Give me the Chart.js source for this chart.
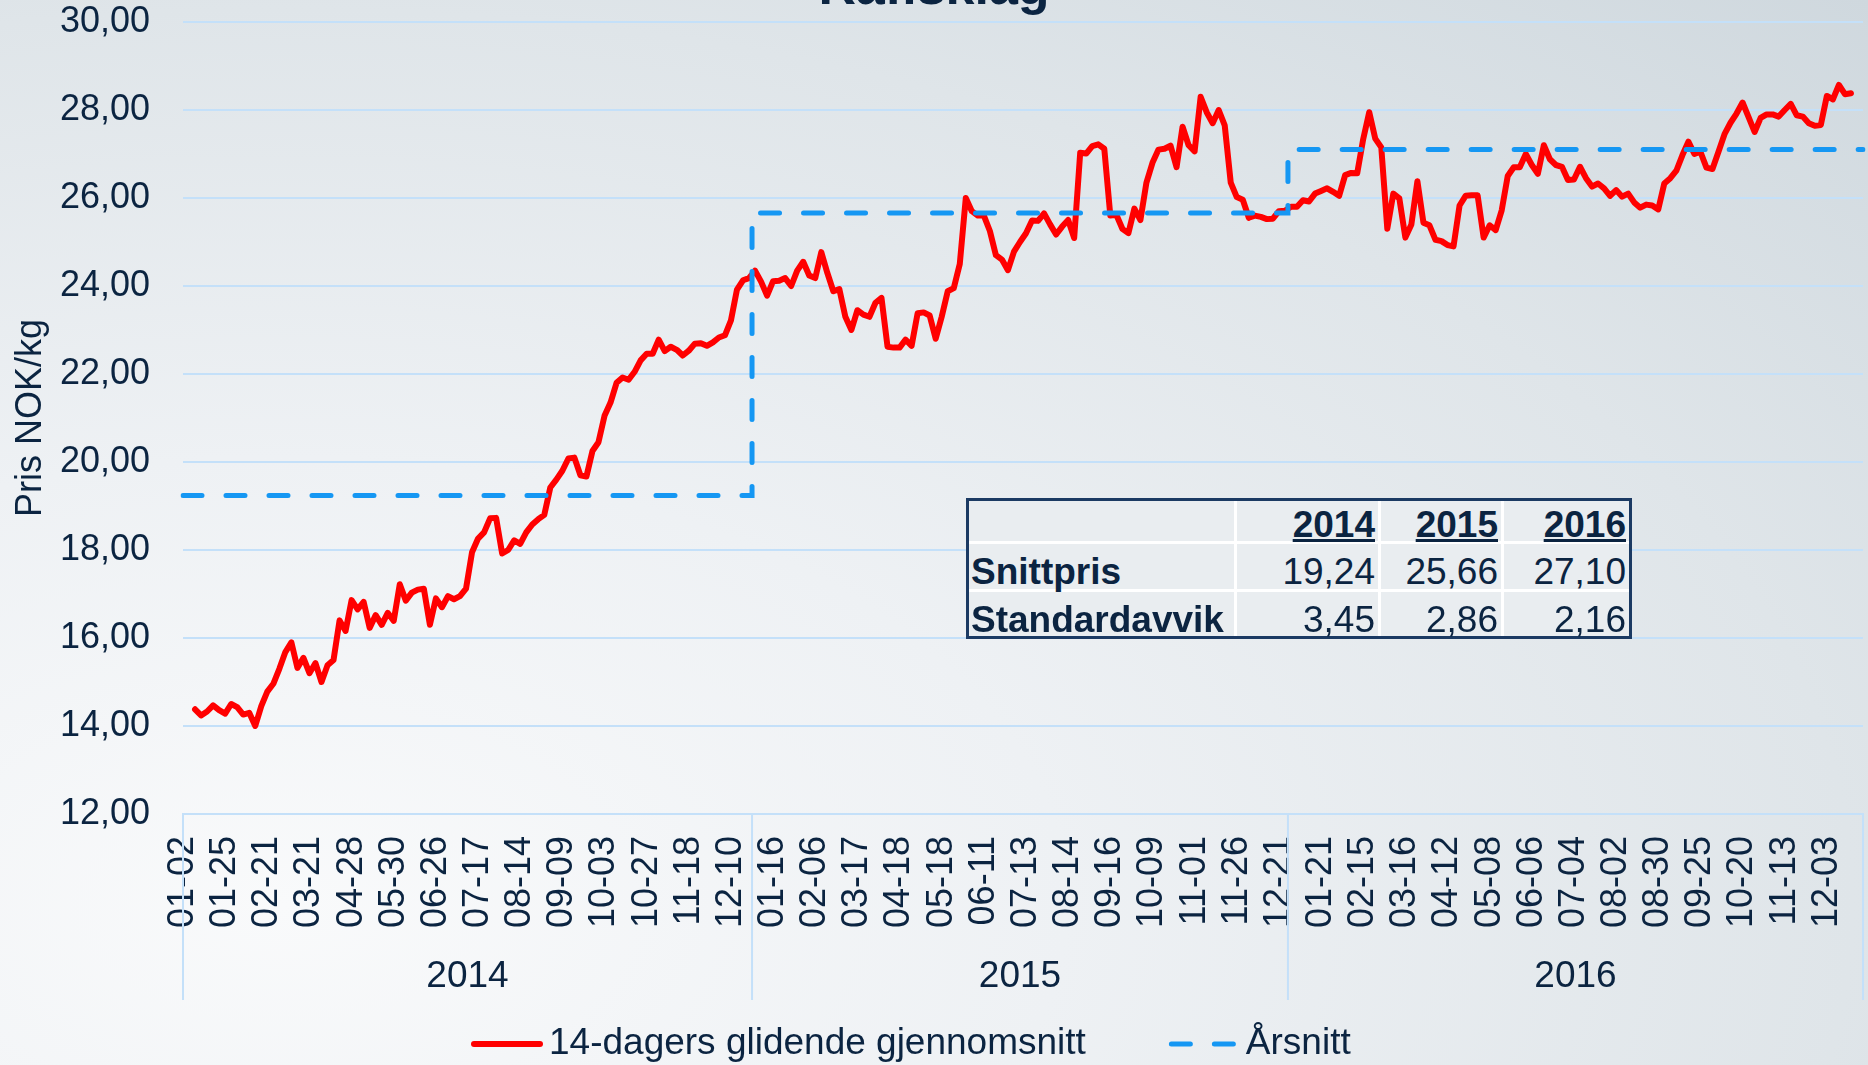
<!DOCTYPE html>
<html>
<head>
<meta charset="utf-8">
<title>Råfisklag</title>
<script src="https://cdn.jsdelivr.net/npm/chart.js@4.4.1/dist/chart.umd.min.js"></script>
<style>
  html, body { margin: 0; padding: 0; }
  body {
    width: 1868px; height: 1065px; overflow: hidden; position: relative;
    background: radial-gradient(farthest-corner at 15% 85%, #f9fafb 0%, #eef1f4 35%, #dfe5e9 70%, #cfd8de 100%);
    font-family: 'Liberation Sans', Arial, sans-serif; color: #0b2441;
  }
  #c { position: absolute; left: 0; top: 0; }
  #title {
    position: absolute; left: 0; top: -40px; width: 1868px; text-align: center;
    font-weight: bold; font-size: 52px; line-height: 52px;
  }
  #stats {
    position: absolute; left: 966px; top: 498px;
    border-collapse: separate; border-spacing: 0; table-layout: fixed;
    border: 3px solid #1b3a63; background: #e9edf0;
    font-size: 37px; line-height: 37px; color: #0b2441;
  }
  #stats td, #stats th {
    box-sizing: border-box; padding: 0 3px; text-align: right; vertical-align: middle;
    border-right: 3px solid #fff; border-bottom: 3px solid #fff; font-weight: normal;
  }
  #stats span { position: relative; top: 5px; display: inline-block; }
  #stats th { font-weight: bold; }
  #stats th span { top: 3px; text-decoration: underline; text-decoration-thickness: 3px; }
  #stats td.lab { text-align: left; font-weight: bold; padding-left: 2px; }
  #stats tr > *:last-child { border-right: none; }
  #stats tr:last-child > * { border-bottom: none; }
</style>
</head>
<body>
<canvas id="c" width="1868" height="1065"></canvas>
<div id="title">Råfisklag</div>
<table id="stats"></table>
<script>
// tick labels (every 7th observation), 2014 - 2016
const tickLabels = [
  '01-02', '01-25', '02-21', '03-21', '04-28', '05-30', '06-26', '07-17', '08-14', '09-09', '10-03', '10-27', '11-18', '12-10',
  '01-16', '02-06', '03-17', '04-18', '05-18', '06-11', '07-13', '08-14', '09-16', '10-09', '11-01', '11-26', '12-21',
  '01-21', '02-15', '03-16', '04-12', '05-08', '06-06', '07-04', '08-02', '08-30', '09-25', '10-20', '11-13', '12-03'
];
const tickEvery = 7;

const years = ['2014', '2015', '2016'];
const yearPointCounts = [95, 89, 96];
const yearAverages = [19.24, 25.66, 27.10];
const yearStdDev = [3.45, 2.86, 2.16];

// 14-dagers glidende gjennomsnitt (NOK/kg)
const movingAvg = [
  null, null,
  14.38, 14.24, 14.33, 14.47, 14.36, 14.28, 14.50, 14.43, 14.26, 14.30,
  14.00, 14.45, 14.78, 14.96, 15.30, 15.68, 15.90, 15.32, 15.55, 15.20,
  15.43, 15.00, 15.38, 15.50, 16.40, 16.16, 16.86, 16.65, 16.82, 16.23,
  16.52, 16.30, 16.57, 16.39, 17.22, 16.85, 17.03, 17.10, 17.12, 16.30,
  16.90, 16.70, 16.95, 16.88, 16.95, 17.12, 17.95, 18.26, 18.40, 18.72,
  18.73, 17.92, 18.00, 18.22, 18.14, 18.40, 18.58, 18.70, 18.80, 19.42,
  19.60, 19.80, 20.08, 20.10, 19.70, 19.67, 20.25, 20.45, 21.05, 21.35,
  21.80, 21.92, 21.87, 22.05, 22.31, 22.46, 22.46, 22.78, 22.52, 22.62,
  22.55, 22.42, 22.53, 22.69, 22.70, 22.64, 22.72, 22.83, 22.88, 23.22,
  23.92, 24.13, 24.18, 24.35, 24.10, 23.78, 24.11, 24.12, 24.18, 24.00,
  24.35, 24.55, 24.24, 24.18, 24.77, 24.30, 23.88, 23.93, 23.30, 23.00,
  23.45, 23.35, 23.30, 23.62, 23.73, 22.62, 22.60, 22.60, 22.78, 22.64,
  23.38, 23.40, 23.33, 22.80, 23.30, 23.88, 23.95, 24.50, 26.00, 25.70,
  25.60, 25.60, 25.25, 24.70, 24.60, 24.36, 24.78, 25.00, 25.20, 25.49,
  25.48, 25.65, 25.40, 25.17, 25.35, 25.50, 25.09, 27.03, 27.01, 27.18,
  27.22, 27.12, 25.60, 25.62, 25.30, 25.20, 25.76, 25.50, 26.35, 26.80,
  27.10, 27.12, 27.19, 26.70, 27.62, 27.20, 27.06, 28.30, 27.95, 27.70,
  28.00, 27.65, 26.35, 26.02, 25.96, 25.55, 25.60, 25.57, 25.52, 25.53,
  25.70, 25.71, 25.80, 25.80, 25.95, 25.92, 26.10, 26.16, 26.22, 26.14,
  26.05, 26.52, 26.57, 26.56, 27.34, 27.95, 27.35, 27.15, 25.30, 26.10,
  25.99, 25.10, 25.40, 26.38, 25.44, 25.38, 25.05, 25.02, 24.93, 24.90,
  25.83, 26.05, 26.06, 26.06, 25.10, 25.38, 25.27, 25.72, 26.50, 26.70,
  26.70, 27.00, 26.75, 26.55, 27.20, 26.88, 26.75, 26.71, 26.41, 26.42,
  26.71, 26.45, 26.26, 26.33, 26.22, 26.05, 26.18, 26.03, 26.10, 25.90,
  25.78, 25.85, 25.83, 25.74, 26.33, 26.45, 26.62, 26.97, 27.28, 27.00,
  27.05, 26.69, 26.66, 27.05, 27.45, 27.71, 27.92, 28.17, 27.84, 27.50,
  27.82, 27.90, 27.90, 27.85, 28.00, 28.14, 27.88, 27.85, 27.70, 27.64,
  27.66, 28.32, 28.24, 28.57, 28.36, 28.38,
  null, null
];

const navy = '#0b2441';
const gridBlue = '#c4e0f9';
const red = '#ff0000';
const blue = '#1597f3';
const fontFamily = "'Liberation Sans', Arial, sans-serif";

const fmt = v => v.toFixed(2).replace('.', ',');

// category labels: one per observation, tick text on every 7th
const categories = movingAvg.map((_, i) => i % tickEvery === 0 ? (tickLabels[i / tickEvery] || '') : '');

// yearly average as a stepped series
const yearlyLine = [];
yearPointCounts.forEach((n, y) => {
  for (let j = 0; j < n; j++) yearlyLine.push(yearAverages[y]);
});

// stats table
const table = document.getElementById('stats');
const colW = [268, 144, 123, 125];
const rowH = [43, 48, 44];
const cell = (tag, text, cls) => '<' + tag + (cls ? ' class="' + cls + '"' : '') + '><span>' + text + '</span></' + tag + '>';
let html = '<tr style="height:' + rowH[0] + 'px"><th style="width:' + colW[0] + 'px"></th>';
years.forEach((y, i) => { html += '<th style="width:' + colW[i + 1] + 'px"><span>' + y + '</span></th>'; });
html += '</tr><tr style="height:' + rowH[1] + 'px">' + cell('td', 'Snittpris', 'lab');
yearAverages.forEach(v => { html += cell('td', fmt(v)); });
html += '</tr><tr style="height:' + rowH[2] + 'px">' + cell('td', 'Standardavvik', 'lab');
yearStdDev.forEach(v => { html += cell('td', fmt(v)); });
html += '</tr>';
table.innerHTML = html;

function noPadding(s) {
  s.paddingLeft = 0;
  s.paddingRight = 0;
  s.paddingTop = 0;
  s.paddingBottom = 0;
}

const extras = {
  id: 'extras',
  afterDraw(chart) {
    const {ctx, chartArea, scales: {x}} = chart;
    const bottom = chartArea.bottom;

    // year separators on the category axis
    const bounds = [x.getPixelForValue(0)];
    let cum = 0;
    yearPointCounts.forEach((n, i) => {
      cum += n;
      bounds.push(x.getPixelForValue(i === yearPointCounts.length - 1 ? cum - 1 : cum - 0.5));
    });
    ctx.save();
    ctx.strokeStyle = gridBlue;
    ctx.lineWidth = 2;
    bounds.forEach(b => {
      ctx.beginPath();
      ctx.moveTo(b, bottom);
      ctx.lineTo(b, bottom + 186);
      ctx.stroke();
    });
    ctx.fillStyle = navy;
    ctx.font = '37px ' + fontFamily;
    ctx.textAlign = 'center';
    ctx.textBaseline = 'middle';
    years.forEach((y, i) => {
      ctx.fillText(y, (bounds[i] + bounds[i + 1]) / 2, bottom + 163);
    });

    // legend
    const ly = 1044;
    let lx = 471;
    ctx.textAlign = 'left';
    ctx.lineCap = 'round';
    ctx.strokeStyle = red;
    ctx.lineWidth = 6;
    ctx.beginPath();
    ctx.moveTo(lx + 3, ly);
    ctx.lineTo(lx + 69, ly);
    ctx.stroke();
    lx += 78;
    const t1 = chart.data.datasets[0].label;
    ctx.fillText(t1, lx, ly);
    lx += ctx.measureText(t1).width + 83;
    ctx.strokeStyle = blue;
    ctx.lineWidth = 5;
    ctx.setLineDash([19, 24]);
    ctx.beginPath();
    ctx.moveTo(lx + 2.5, ly);
    ctx.lineTo(lx + 64.5, ly);
    ctx.stroke();
    ctx.setLineDash([]);
    lx += 77;
    ctx.fillText(chart.data.datasets[1].label, lx, ly);
    ctx.restore();
  }
};

new Chart(document.getElementById('c'), {
  type: 'line',
  data: {
    labels: categories,
    datasets: [
      {
        label: '14-dagers glidende gjennomsnitt',
        data: movingAvg,
        borderColor: red,
        borderWidth: 6,
        borderJoinStyle: 'round',
        borderCapStyle: 'round',
        pointRadius: 0,
        tension: 0,
        order: 1
      },
      {
        label: 'Årsnitt',
        data: yearlyLine,
        borderColor: blue,
        borderWidth: 5,
        borderDash: [19, 24],
        borderCapStyle: 'round',
        stepped: 'middle',
        pointRadius: 0,
        order: 0
      }
    ]
  },
  options: {
    responsive: false,
    animation: false,
    layout: { padding: { top: 22, right: 5, left: 0, bottom: 0 } },
    plugins: {
      legend: { display: false },
      tooltip: { enabled: false }
    },
    scales: {
      x: {
        grid: { display: false, drawTicks: false },
        border: { color: gridBlue, width: 2 },
        ticks: {
          autoSkip: false,
          minRotation: 90,
          maxRotation: 90,
          padding: 22,
          color: navy,
          font: { family: fontFamily, size: 36 }
        },
        afterFit: s => { s.height = 251; noPadding(s); }
      },
      y: {
        min: 12,
        max: 30,
        grid: { color: gridBlue, lineWidth: 2, drawTicks: false },
        border: { display: false },
        ticks: {
          stepSize: 2,
          padding: 33,
          color: navy,
          font: { family: fontFamily, size: 36 },
          callback: v => fmt(v)
        },
        title: {
          display: true,
          text: 'Pris NOK/kg',
          color: navy,
          font: { family: fontFamily, size: 36 },
          padding: { top: 9, bottom: 0 }
        },
        afterFit: s => { s.width = 183; noPadding(s); }
      }
    }
  },
  plugins: [extras]
});
</script>
</body>
</html>
